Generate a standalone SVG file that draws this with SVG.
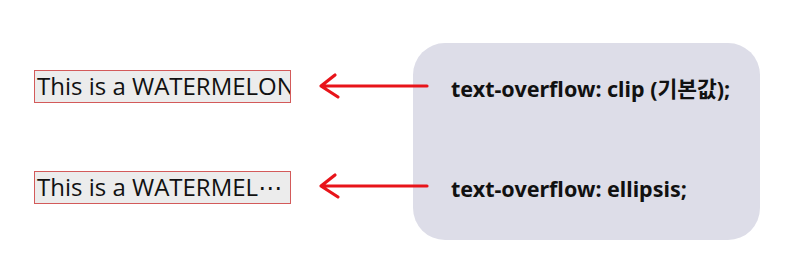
<svg xmlns="http://www.w3.org/2000/svg" width="798" height="277" viewBox="0 0 798 277">
  <style>
    .demo { fill: #ececec; stroke: #d35a5a; stroke-width: 1; }
    .demo-text { font-family: "Open Sans", "Noto Sans CJK KR", sans-serif; font-size: 24px; fill: #111; }
    .dots { font-family: "DejaVu Sans", sans-serif; }
    .code { font-family: "Noto Sans", "Noto Sans CJK KR", sans-serif; font-size: 21.5px; font-weight: bold; fill: #111; }
    .arrow { fill: none; stroke: #e8141a; stroke-width: 3.2; stroke-linecap: round; stroke-linejoin: round; }
  </style>
  <defs>
    <clipPath id="clipBox">
      <rect x="35" y="70" width="255" height="32"/>
    </clipPath>
  </defs>
  <rect width="798" height="277" fill="#ffffff"/>

  <g id="panel">
    <rect x="413" y="43" width="347" height="197" rx="32" fill="#dddde8"/>
  </g>

  <g id="box-clip">
    <rect class="demo" x="34.5" y="70.5" width="256" height="32"/>
    <text class="demo-text" x="37" y="95" clip-path="url(#clipBox)">This is a WATERMELON</text>
  </g>

  <g id="box-ellipsis">
    <rect class="demo" x="34.5" y="171.5" width="256" height="32"/>
    <text class="demo-text" x="37" y="196">This is a WATERMEL<tspan class="dots">⋯</tspan></text>
  </g>

  <g id="label-clip">
    <text class="code" x="451" y="97">text-overflow: clip (기본값);</text>
  </g>

  <g id="label-ellipsis">
    <text class="code" x="451" y="197">text-overflow: ellipsis;</text>
  </g>

  <g id="connectors">
    <path class="arrow" d="M427 86 L323 86 M335 75 L321 86 L338 97"/>
    <path class="arrow" d="M427 186 L323 186 M335 175 L321 186 L338 197"/>
  </g>
</svg>
